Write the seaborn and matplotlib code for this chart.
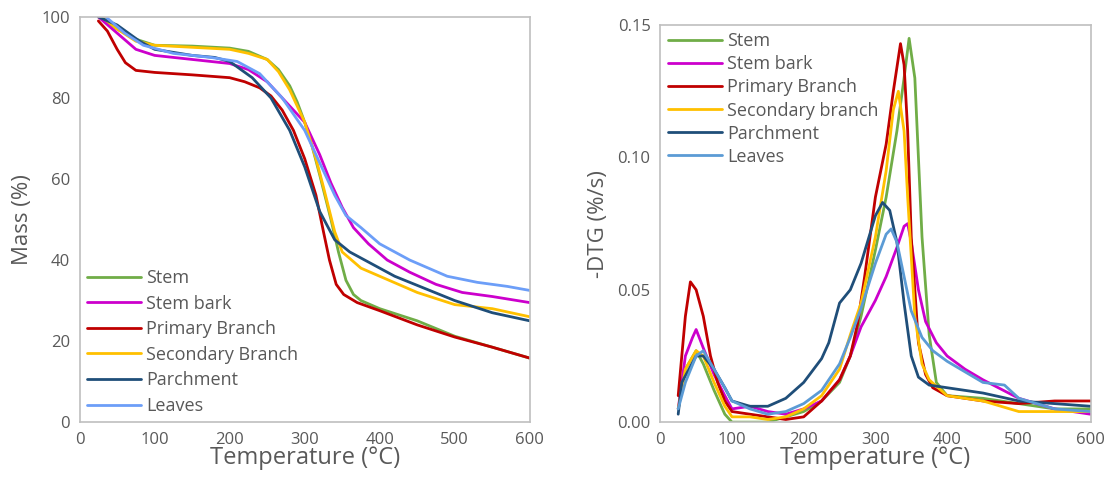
import matplotlib
matplotlib.use("Agg")
import matplotlib.pyplot as plt
import seaborn as sns
import pandas as pd

# TGA (mass %)
stem_t = [25, 50, 75, 100, 150, 200, 225, 250, 265, 280, 290, 300, 310, 320, 335, 345, 355, 365, 375, 400, 450, 500, 550, 600]
stem_m = [100, 97, 94.5, 93, 92.8, 92.3, 91.5, 89.5, 87, 83, 79, 74, 68, 61, 50, 42, 35, 31.5, 30, 28, 25, 21.2, 18.5, 15.8]
bark_t = [25, 50, 75, 100, 150, 200, 225, 250, 275, 300, 320, 335, 350, 365, 385, 410, 440, 475, 510, 550, 600]
bark_m = [100, 96, 92, 90.5, 89.5, 88.5, 87, 84, 79, 74, 66, 59, 53, 48, 44, 40, 37, 34, 32, 31, 29.5]
prim_t = [25, 37, 50, 61, 75, 100, 150, 200, 220, 240, 255, 270, 285, 300, 315, 325, 333, 342, 352, 370, 400, 450, 500, 550, 600]
prim_m = [99, 96.5, 92, 88.7, 86.8, 86.3, 85.7, 85, 84, 82.5, 80.5, 77, 72, 65, 56, 47, 40, 34, 31.5, 29.5, 27.5, 24, 21, 18.5, 15.8]
sec_t = [30, 50, 75, 100, 150, 200, 225, 250, 265, 280, 300, 315, 325, 340, 350, 375, 400, 450, 500, 550, 600]
sec_m = [100, 97, 94, 93, 92.5, 92, 91, 89.5, 86.5, 82, 74, 65, 58, 47, 42, 38, 36, 32, 29, 28, 26]
parch_t = [25, 50, 80, 100, 150, 180, 200, 230, 255, 280, 300, 320, 340, 360, 390, 420, 460, 500, 550, 600]
parch_m = [100, 98, 94, 92, 90.5, 90, 89, 85, 80, 72, 63, 52, 45, 42, 39, 36, 33, 30, 27, 25]
leaf_t = [35, 60, 85, 125, 175, 210, 240, 270, 300, 320, 340, 355, 375, 400, 440, 490, 530, 570, 600]
leaf_m = [100, 96, 93, 91, 90, 89, 86, 80, 72, 64, 56, 51, 48, 44, 40, 36, 34.5, 33.5, 32.5]

# DTG (-%/s)
dstem_t = [25, 35, 50, 60, 75, 90, 100, 120, 150, 175, 200, 225, 250, 265, 280, 300, 315, 330, 340, 347, 355, 365, 375, 385, 400, 450, 500, 550, 600]
dstem_v = [0.005, 0.02, 0.027, 0.022, 0.012, 0.003, 0.0, 0.0, 0.0, 0.002, 0.004, 0.008, 0.015, 0.025, 0.04, 0.065, 0.085, 0.11, 0.13, 0.145, 0.13, 0.07, 0.033, 0.015, 0.01, 0.009, 0.007, 0.005, 0.005]
dbark_t = [25, 35, 45, 50, 60, 75, 90, 100, 125, 150, 175, 200, 225, 250, 265, 280, 300, 315, 330, 340, 345, 350, 360, 370, 385, 400, 425, 450, 500, 550, 600]
dbark_v = [0.005, 0.025, 0.032, 0.035, 0.028, 0.018, 0.01, 0.005, 0.006, 0.004, 0.003, 0.005, 0.008, 0.016, 0.025, 0.036, 0.046, 0.055, 0.066, 0.074, 0.075, 0.068, 0.05, 0.038, 0.03, 0.025, 0.02, 0.016, 0.009, 0.005, 0.003]
dprim_t = [25, 30, 35, 42, 50, 60, 70, 80, 90, 100, 125, 150, 175, 200, 225, 250, 265, 275, 285, 300, 315, 325, 335, 340, 345, 350, 360, 370, 380, 400, 450, 500, 550, 600]
dprim_v = [0.01, 0.025, 0.04, 0.053, 0.05, 0.04, 0.025, 0.015, 0.008, 0.004, 0.003, 0.002, 0.001, 0.002, 0.008, 0.016, 0.025, 0.037, 0.055, 0.085, 0.105, 0.125, 0.143, 0.135, 0.11, 0.07, 0.03, 0.018, 0.013, 0.01, 0.008, 0.007, 0.008, 0.008]
dsec_t = [25, 35, 50, 60, 75, 90, 100, 125, 150, 175, 200, 225, 250, 265, 280, 300, 315, 325, 332, 340, 345, 355, 365, 375, 400, 450, 500, 550, 600]
dsec_v = [0.005, 0.02, 0.027, 0.025, 0.015, 0.006, 0.002, 0.002, 0.001, 0.002, 0.005, 0.01, 0.02, 0.033, 0.045, 0.07, 0.095, 0.118, 0.125, 0.11, 0.085, 0.04, 0.022, 0.016, 0.01, 0.008, 0.004, 0.004, 0.004]
dparch_t = [25, 30, 40, 50, 60, 75, 90, 100, 125, 150, 175, 200, 225, 235, 250, 265, 280, 300, 310, 320, 330, 340, 350, 360, 375, 400, 450, 500, 550, 600]
dparch_v = [0.003, 0.015, 0.02, 0.025, 0.025, 0.02, 0.013, 0.008, 0.006, 0.006, 0.009, 0.015, 0.024, 0.03, 0.045, 0.05, 0.06, 0.078, 0.083, 0.08, 0.068, 0.045, 0.025, 0.017, 0.014, 0.013, 0.011, 0.008, 0.007, 0.006]
dleaf_t = [25, 35, 50, 60, 75, 90, 100, 125, 150, 175, 200, 225, 250, 265, 280, 300, 315, 322, 330, 340, 350, 365, 380, 400, 450, 480, 500, 550, 600]
dleaf_v = [0.005, 0.015, 0.025, 0.027, 0.02, 0.013, 0.008, 0.005, 0.003, 0.004, 0.007, 0.012, 0.022, 0.032, 0.043, 0.06, 0.071, 0.073, 0.068, 0.055, 0.042, 0.032, 0.027, 0.023, 0.015, 0.014, 0.009, 0.005, 0.004]

tga_names = ["Stem", "Stem bark", "Primary Branch", "Secondary Branch", "Parchment", "Leaves"]
dtg_names = ["Stem", "Stem bark", "Primary Branch", "Secondary branch", "Parchment", "Leaves"]
tga_colors = ["#70AD47", "#CC00CC", "#C00000", "#FFC000", "#1F4E79", "#6C9EF8"]
dtg_colors = ["#70AD47", "#CC00CC", "#C00000", "#FFC000", "#1F4E79", "#5B9BD5"]


def long_frame(names, ts, vs, col):
    parts = []
    for n, t, v in zip(names, ts, vs):
        parts.append(pd.DataFrame({"T": t, col: v, "series": n}))
    return pd.concat(parts, ignore_index=True)


tga = long_frame(tga_names,
                 [stem_t, bark_t, prim_t, sec_t, parch_t, leaf_t],
                 [stem_m, bark_m, prim_m, sec_m, parch_m, leaf_m], "mass")
dtg = long_frame(dtg_names,
                 [dstem_t, dbark_t, dprim_t, dsec_t, dparch_t, dleaf_t],
                 [dstem_v, dbark_v, dprim_v, dsec_v, dparch_v, dleaf_v], "dtg")

sns.set_style("white")
plt.rcParams['font.family'] = ['Open Sans', 'DejaVu Sans']
grey = "#595959"

fig = plt.figure(figsize=(11.06, 4.83), dpi=100)
ax1 = fig.add_axes([0.072, 0.126, 0.407, 0.839])
ax2 = fig.add_axes([0.597, 0.126, 0.389, 0.822])

sns.lineplot(data=tga, x="T", y="mass", hue="series", hue_order=tga_names,
             palette=tga_colors, estimator=None, sort=False, lw=2, ax=ax1)
sns.lineplot(data=dtg, x="T", y="dtg", hue="series", hue_order=dtg_names,
             palette=dtg_colors, estimator=None, sort=False, lw=2, ax=ax2)

ax1.set_xlim(0, 600)
ax1.set_ylim(0, 100)
ax1.set_xticks(range(0, 601, 100))
ax1.set_yticks(range(0, 101, 20))
ax1.set_ylabel("Mass (%)", fontsize=16, color=grey, labelpad=6)

ax2.set_xlim(0, 600)
ax2.set_ylim(0, 0.15)
ax2.set_xticks(range(0, 601, 100))
ax2.set_yticks([0, 0.05, 0.10, 0.15])
ax2.set_yticklabels(["0.00", "0.05", "0.10", "0.15"])
ax2.set_ylabel("-DTG (%/s)", fontsize=16, color=grey, labelpad=6)

for ax in (ax1, ax2):
    ax.set_xlabel("Temperature (°C)", fontsize=17, color=grey, labelpad=-1)
    ax.tick_params(length=0, labelsize=12, labelcolor=grey, pad=7)
    for s in ax.spines.values():
        s.set_color("#BFBFBF")
        s.set_linewidth(1.2)

ax1.legend(loc="lower left", bbox_to_anchor=(0.0, 0.0), frameon=False,
           fontsize=13, labelcolor=grey, handlelength=3.0, handletextpad=0.3,
           labelspacing=0.42, borderaxespad=0.0)
ax2.legend(loc="upper left", bbox_to_anchor=(0.0, 1.0), frameon=False,
           fontsize=13, labelcolor=grey, handlelength=3.0, handletextpad=0.3,
           labelspacing=0.28, borderaxespad=0.0)

fig.savefig("out.png", dpi=100)
